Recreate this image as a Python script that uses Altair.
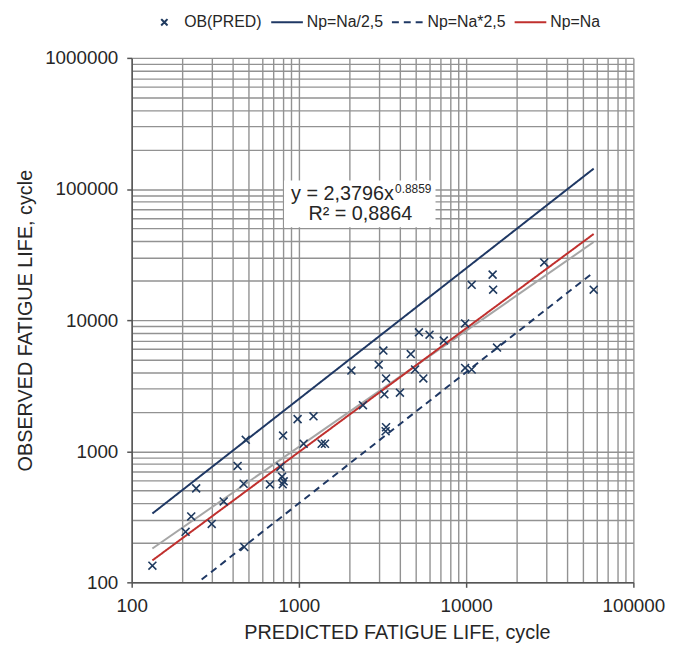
import altair as alt
import pandas as pd

# ---- data ----
pred = [133, 210, 227, 243, 301, 355, 430, 467, 481, 471, 671, 775, 804, 793, 811, 800,
        982, 1222, 1067, 1368, 1432, 2060, 2415, 3000, 3199, 3320, 3243, 3320, 3300,
        4018, 4665, 4950, 5220, 5545, 6040, 7350, 9860, 9860, 10790, 15300, 10790,
        14400, 14500, 29300, 57900]
obs = [134, 243, 318, 521, 279, 414, 773, 565, 1222, 186, 558, 760, 1316, 640, 590, 560,
       1758, 1845, 1140, 1140, 1140, 4121, 2244, 4571, 5861, 3589, 2717, 1524, 1420,
       2797, 5510, 4200, 8070, 3589, 7740, 6980, 9440, 4318, 4200, 6180, 18580,
       22230, 17060, 27540, 17060]

series = ["OB(PRED)", "Np=Na/2,5", "Np=Na*2,5", "Np=Na"]
series_colors = ["#1f3a5f", "#1f3864", "#1f3864", "#c0302e"]
series_dash = [[1, 0], [1, 0], [7, 5], [1, 0]]
xpath = "M-0.2,-0.2L0.2,0.2M-0.2,0.2L0.2,-0.2"
series_shapes = [xpath, "stroke", "stroke", "stroke"]

line_series = ["Np=Na/2,5", "Np=Na/2,5", "Np=Na*2,5", "Np=Na*2,5", "Np=Na", "Np=Na"]
line_x = [133, 57900, 262, 57900, 133, 57900]
line_y = [335, 143000, 105, 23200, 147, 45400]

reg_x = [133, 57900]
reg_y = [181, 39400]

x_ticks = [100, 200, 300, 400, 500, 600, 700, 800, 900,
           1000, 2000, 3000, 4000, 5000, 6000, 7000, 8000, 9000,
           10000, 20000, 30000, 40000, 50000, 60000, 70000, 80000, 90000, 100000]
y_ticks = [100, 200, 300, 400, 500, 600, 700, 800, 900,
           1000, 2000, 3000, 4000, 5000, 6000, 7000, 8000, 9000,
           10000, 20000, 30000, 40000, 50000, 60000, 70000, 80000, 90000,
           100000, 200000, 300000, 400000, 500000, 600000, 700000, 800000, 900000, 1000000]
decades = "[100,1000,10000,100000,1000000]"

# annotation (equation box)
box = pd.DataFrame({"x": [815], "x2": [6560], "y": [116000], "y2": [51000]})
eq1 = pd.DataFrame({"x": [3700], "y": [91400], "t": ["y = 2,3796x"]})
eq_sup = pd.DataFrame({"x": [3760], "y": [100000], "t": ["0.8859"]})
eq2 = pd.DataFrame({"x": [2330], "y": [64300], "t": ["R² = 0,8864"]})

FONT = "Liberation Sans"

pts = pd.DataFrame({"x": pred, "y": obs, "series": "OB(PRED)"})
lines = pd.DataFrame({"x": line_x, "y": line_y, "series": line_series})
reg = pd.DataFrame({"x": reg_x, "y": reg_y})

is_dec = f"indexof({decades}, datum.value) >= 0"

xscale = alt.Scale(type="log", domain=[100, 100000], nice=False)
yscale = alt.Scale(type="log", domain=[100, 1000000], nice=False)

common = dict(grid=True, gridColor="#929292", gridWidth=1.4,
              domainColor="#555555", domainWidth=1.5, tickColor="#555555",
              tickWidth=1.5, tickSize=5,
              tickOpacity={"condition": {"test": is_dec, "value": 1}, "value": 0},
              labelExpr=f"{is_dec} ? format(datum.value, 'd') : ''",
              labelFlush=False, labelOverlap=False, labelFont=FONT, labelFontSize=19,
              labelColor="#262626", labelPadding=9, titleFont=FONT, titleFontSize=20,
              titleFontWeight="normal", titleColor="#262626")

xaxis = alt.Axis(values=x_ticks, title="PREDICTED FATIGUE LIFE, cycle",
                 titlePadding=8, titleX=268, **common)
yaxis = alt.Axis(values=y_ticks, title="OBSERVED FATIGUE LIFE, cycle",
                 titlePadding=9, **common)

leg = alt.Legend(orient="none", legendX=16, legendY=-53, direction="horizontal",
                 columns=4, title=None, labelFont=FONT, labelFontSize=16,
                 labelColor="#262626", symbolSize=1024, symbolStrokeWidth=2,
                 labelOffset=3, columnPadding=5)

color_enc = alt.Color("series:N", scale=alt.Scale(domain=series, range=series_colors), legend=leg)

points = alt.Chart(pts).mark_point(size=1600, strokeWidth=1.6, filled=False, opacity=1).encode(
    x=alt.X("x:Q", scale=xscale, axis=xaxis),
    y=alt.Y("y:Q", scale=yscale, axis=yaxis),
    color=color_enc,
    shape=alt.Shape("series:N", scale=alt.Scale(domain=series, range=series_shapes), legend=leg),
)

ref_lines = alt.Chart(lines).mark_line(strokeWidth=2, clip=True).encode(
    x="x:Q", y="y:Q",
    color=color_enc,
    strokeDash=alt.StrokeDash("series:N", scale=alt.Scale(domain=series, range=series_dash), legend=leg),
    detail="series:N",
)

reg_line = alt.Chart(reg).mark_line(strokeWidth=2, color="#a6a6a6").encode(x="x:Q", y="y:Q")

box_mark = alt.Chart(box).mark_rect(color="white").encode(x="x:Q", x2="x2", y="y:Q", y2="y2")
t1 = alt.Chart(eq1).mark_text(font=FONT, fontSize=20, color="#262626", align="right",
                              baseline="middle").encode(x="x:Q", y="y:Q", text="t:N")
t_sup = alt.Chart(eq_sup).mark_text(font=FONT, fontSize=12, color="#262626", align="left",
                                    baseline="middle").encode(x="x:Q", y="y:Q", text="t:N")
t2 = alt.Chart(eq2).mark_text(font=FONT, fontSize=20, color="#262626", align="center",
                              baseline="middle").encode(x="x:Q", y="y:Q", text="t:N")

chart = alt.layer(reg_line, ref_lines, points, box_mark, t1, t_sup, t2).properties(
    width=507, height=530,
    autosize=alt.AutoSizeParams(type="none"),
    padding={"left": 125, "top": 47, "right": 36, "bottom": 70},
    background="white",
).configure_view(stroke=None)

chart.save("out.html", embed_options={"renderer": "svg", "actions": False})
